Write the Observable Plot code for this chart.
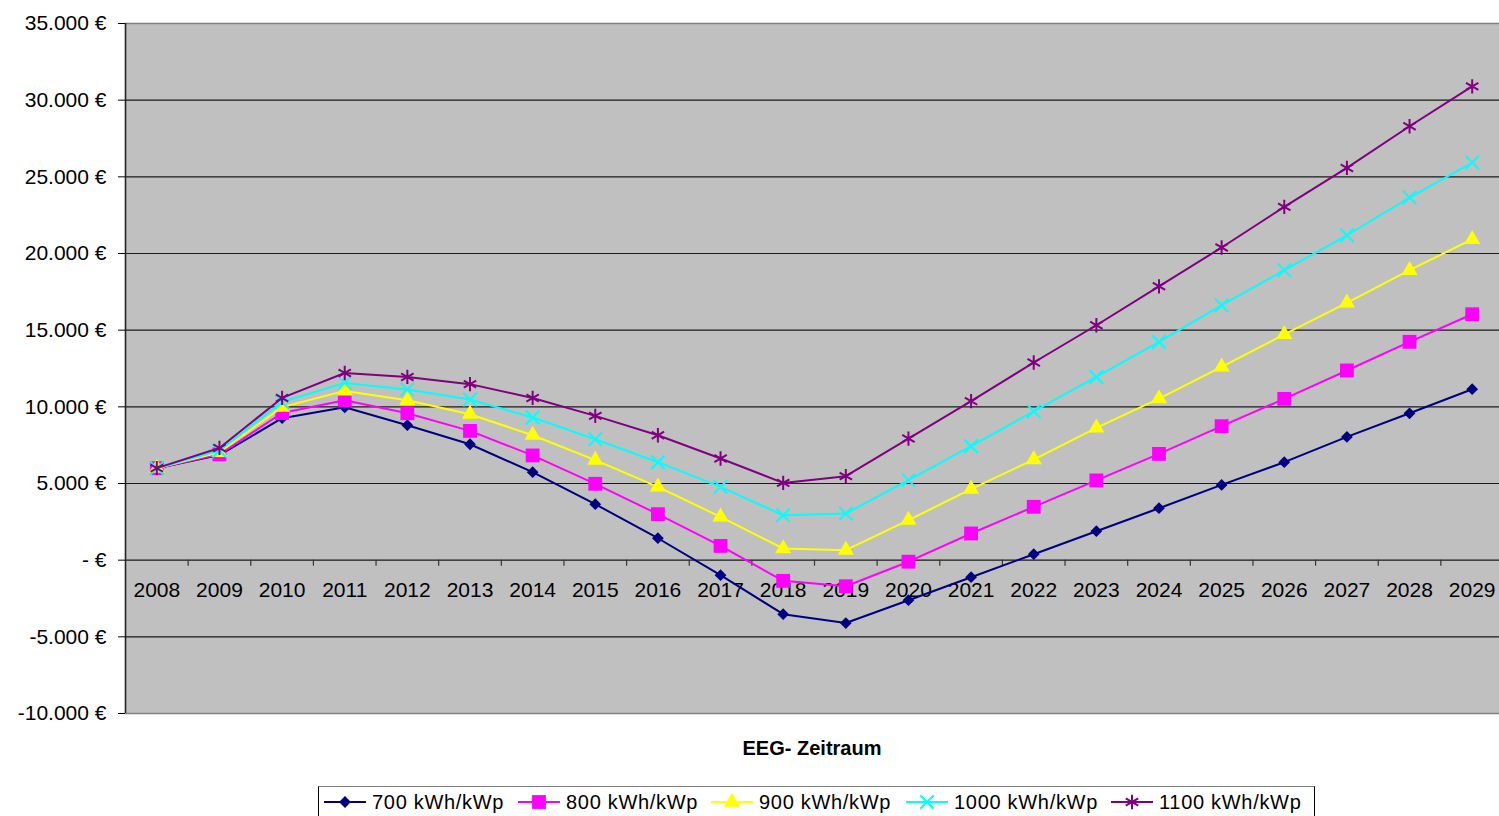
<!DOCTYPE html>
<html>
<head>
<meta charset="utf-8">
<script src="https://cdn.jsdelivr.net/npm/d3@7"></script>
<script src="https://cdn.jsdelivr.net/npm/@observablehq/plot@0.6"></script>
<style>
  body { margin: 0; background: #fff; font-family: "Liberation Sans", Arial, sans-serif; }
  #wrap { position: relative; width: 1499px; height: 816px; overflow: hidden; }
  #title { position: absolute; left: 125px; width: 1374px; top: 736px; text-align: center;
           font-weight: bold; font-size: 20px; line-height: 24px; color: #000; }
  #legend { position: absolute; left: 318px; top: 786px; width: 997px; height: 36px;
            border: 1px solid #000; border-top: 1.5px solid #808080; box-sizing: border-box; }
  .item { position: absolute; top: 0; height: 30px; display: flex; align-items: center;
          font-size: 20px; letter-spacing: 0.7px; color: #000; white-space: nowrap; }
  .item svg { margin-right: 5px; }
</style>
</head>
<body>
<div id="wrap">
  <div id="chart"></div>
  <div id="title">EEG- Zeitraum</div>
  <div id="legend"></div>
</div>
<script>
// ---- data ----
const years = [2008, 2009, 2010, 2011, 2012, 2013, 2014, 2015, 2016, 2017, 2018,
               2019, 2020, 2021, 2022, 2023, 2024, 2025, 2026, 2027, 2028, 2029];
const seriesNames = ["700 kWh/kWp", "800 kWh/kWp", "900 kWh/kWp", "1000 kWh/kWp", "1100 kWh/kWp"];
const seriesColors = ["#000080", "#FF00FF", "#FFFF00", "#00FFFF", "#800080"];
const seriesSymbols = ["diamond2", "square", "triangle", "times", "asterisk"];

const v700  = [6000, 6850, 9260, 9970, 8800, 7560, 5740, 3650, 1430, -980, -3520,
               -4100, -2610, -1110, 390, 1890, 3390, 4910, 6390, 8040, 9580, 11150];
const v800  = [6000, 6900, 9600, 10430, 9580, 8430, 6830, 4980, 3000, 930, -1350,
               -1700, -100, 1740, 3480, 5200, 6930, 8740, 10520, 12370, 14240, 16040];
const v900  = [6000, 7040, 9980, 11040, 10430, 9520, 8150, 6520, 4780, 2820, 760,
               650, 2610, 4630, 6560, 8630, 10540, 12610, 14720, 16780, 18910, 20930];
const v1000 = [6000, 7150, 10320, 11560, 11130, 10480, 9300, 7890, 6390, 4780, 2930,
               3040, 5220, 7430, 9710, 11950, 14230, 16630, 18910, 21190, 23650, 25930];
const v1100 = [6000, 7320, 10580, 12210, 11950, 11480, 10580, 9410, 8150, 6630, 5040,
               5480, 7930, 10370, 12890, 15320, 17860, 20390, 23040, 25580, 28300, 30900];
const seriesValues = [v700, v800, v900, v1000, v1100];

const yTicks = [-10000, -5000, 0, 5000, 10000, 15000, 20000, 25000, 30000, 35000];

// ---- build table ----
const rows = [];
seriesNames.forEach((name, si) => {
  seriesValues[si].forEach((v, i) => rows.push({series: name, year: years[i], value: v}));
});

const fmt = d => d === 0 ? "- €" : d3.format(",")(d).replace(/,/g, ".").replace("−", "-") + " €";

const boundaries = years.slice(0, -1).map(y => y + 0.5);
const gridVals = yTicks.slice(1, -1);

const symbolR = {"diamond2": 5.3, "square": 7.8, "triangle": 6.0, "times": 6.2, "asterisk": 6.8};

const marks = [
  Plot.frame({fill: "#C0C0C0", stroke: null}),
  Plot.ruleY(gridVals, {stroke: "#1a1a1a", strokeWidth: 1.2}),
  Plot.ruleY([yTicks[yTicks.length - 1], yTicks[0]], {stroke: "#808080", strokeWidth: 1.5}),
  Plot.ruleX(boundaries, {y1: () => 0, y2: () => 0, insetBottom: -6, stroke: "#333", strokeWidth: 1.2}),
  Plot.ruleX([years[0] - 0.5], {stroke: "#222", strokeWidth: 1.6}),
  Plot.axisY({ticks: yTicks, tickFormat: fmt, tickSize: 7, tickPadding: 12, fontSize: 21, label: null}),
  Plot.text(years, {x: d => d, y: () => 0, dy: 30, text: d => String(d), fontSize: 21, fill: "#000"})
];

seriesNames.forEach((name, si) => {
  const data = rows.filter(r => r.series === name);
  const col = seriesColors[si];
  const sym = seriesSymbols[si];
  const filled = si < 3;
  marks.push(Plot.line(data, {x: "year", y: "value", stroke: col, strokeWidth: 2}));
  marks.push(Plot.dot(data, {
    x: "year", y: "value", symbol: () => sym, r: symbolR[sym],
    fill: filled ? col : "none", stroke: col, strokeWidth: filled ? 0 : 2
  }));
});

const chart = Plot.plot({
  width: 1499,
  height: 725,
  marginTop: 23,
  marginBottom: 12,
  marginLeft: 125,
  marginRight: 0,
  style: {fontFamily: "'Liberation Sans', Arial, sans-serif", background: "#fff", color: "#000"},
  x: {domain: [years[0] - 0.5, years[years.length - 1] + 0.5], range: [125, 1503], axis: null},
  y: {domain: [yTicks[0], yTicks[yTicks.length - 1]], axis: null},
  symbol: {type: "identity"},
  marks
});
document.getElementById("chart").appendChild(chart);

// ---- legend ----
const legend = document.getElementById("legend");
const itemLeft = [4, 198, 391, 586, 791];
const symMap = {diamond2: d3.symbolDiamond2, square: d3.symbolSquare, triangle: d3.symbolTriangle,
                times: d3.symbolTimes, asterisk: d3.symbolAsterisk};
seriesNames.forEach((name, si) => {
  const div = document.createElement("div");
  div.className = "item";
  div.style.left = itemLeft[si] + "px";
  const sym = seriesSymbols[si];
  const col = seriesColors[si];
  const filled = si < 3;
  const r = symbolR[sym];
  const path = d3.symbol(symMap[sym], Math.PI * r * r)();
  div.innerHTML =
    `<svg width="44" height="30" viewBox="-22 -15 44 30">
       <line x1="-21" x2="21" y1="0" y2="0" stroke="${col}" stroke-width="2"/>
       <path d="${path}" fill="${filled ? col : "none"}" stroke="${filled ? "none" : col}" stroke-width="2"/>
     </svg><span>${name}</span>`;
  legend.appendChild(div);
});
</script>
</body>
</html>
